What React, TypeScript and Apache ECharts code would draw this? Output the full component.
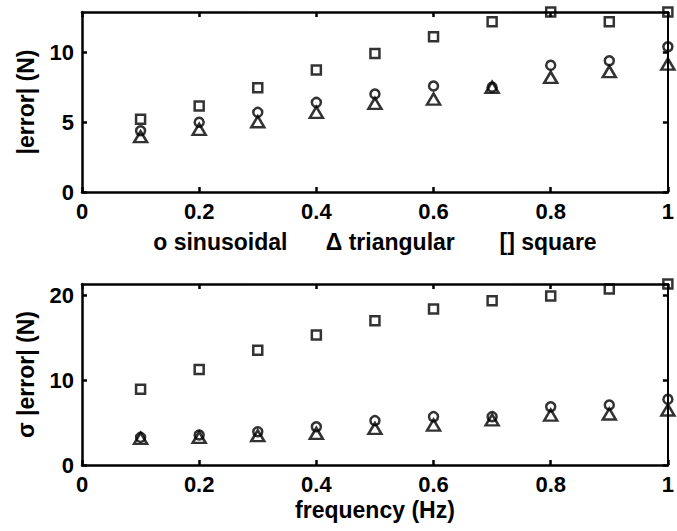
import React, { useEffect, useRef } from "react";
import * as echarts from "echarts";

const frequency = [0.1, 0.2, 0.3, 0.4, 0.5, 0.6, 0.7, 0.8, 0.9, 1.0];

// top panel: |error| (N)
const meanSinusoidal = [4.38, 4.98, 5.69, 6.4, 7.0, 7.57, 7.48, 9.05, 9.38, 10.38];
const meanTriangular = [3.95, 4.48, 5.02, 5.69, 6.33, 6.64, 7.48, 8.19, 8.6, 9.14];
const meanSquare = [5.2, 6.14, 7.45, 8.71, 9.9, 11.1, 12.16, 12.86, 12.16, 12.86];

// bottom panel: sigma |error| (N)
const sdSinusoidal = [3.25, 3.53, 3.92, 4.5, 5.22, 5.69, 5.69, 6.86, 7.06, 7.73];
const sdTriangular = [3.14, 3.25, 3.45, 3.72, 4.3, 4.7, 5.3, 5.88, 6.0, 6.47];
const sdSquare = [8.9, 11.25, 13.5, 15.3, 16.98, 18.35, 19.33, 19.9, 20.7, 21.3];

const topYMax = 12.86;
const bottomYMax = 21.3;

const FONT = "'Liberation Sans', Arial, Helvetica, sans-serif";

function pairs(xs: number[], ys: number[]) {
  return xs.map((x, i) => [x, ys[i]]);
}

export default function App() {
  const ref = useRef<HTMLDivElement>(null);

  useEffect(() => {
    if (!ref.current) return;
    const chart = echarts.init(ref.current, undefined, { renderer: "svg" });

    const lineStyle = { color: "#000", width: 2.5 };
    const labelStyle = {
      color: "#000",
      fontFamily: FONT,
      fontWeight: "bold" as const,
      fontSize: 22,
    };
    const nameStyle = {
      color: "#000",
      fontFamily: FONT,
      fontWeight: "bold" as const,
      fontSize: 23,
    };

    const xBottom = (gridIndex: number, name: string, gap: number) => ({
      type: "value",
      gridIndex,
      position: "bottom",
      min: 0,
      max: 1,
      interval: 0.2,
      name,
      nameLocation: "middle",
      nameGap: gap,
      nameTextStyle: nameStyle,
      axisLine: { show: true, onZero: false, lineStyle },
      axisTick: { show: true, inside: true, length: 5, lineStyle },
      axisLabel: { ...labelStyle, margin: 8 },
      splitLine: { show: false },
    });
    const xTop = (gridIndex: number) => ({
      type: "value",
      gridIndex,
      position: "top",
      min: 0,
      max: 1,
      interval: 0.2,
      axisLine: { show: true, onZero: false, lineStyle },
      axisTick: { show: true, inside: true, length: 5, lineStyle },
      axisLabel: { show: false },
      splitLine: { show: false },
    });
    const yLeft = (gridIndex: number, max: number, interval: number, name: string) => ({
      type: "value",
      gridIndex,
      position: "left",
      min: 0,
      max,
      interval,
      name,
      nameLocation: "middle",
      nameGap: 45,
      nameTextStyle: nameStyle,
      axisLine: { show: true, onZero: false, lineStyle },
      axisTick: { show: true, inside: true, length: 5, lineStyle },
      axisLabel: { ...labelStyle, margin: 8, showMaxLabel: false },
      splitLine: { show: false },
    });
    const yRight = (gridIndex: number, max: number, interval: number) => ({
      type: "value",
      gridIndex,
      position: "right",
      min: 0,
      max,
      interval,
      axisLine: { show: true, onZero: false, lineStyle: { color: "#000", width: 2 } },
      axisTick: { show: true, inside: true, length: 5, lineStyle },
      axisLabel: { show: false },
      splitLine: { show: false },
    });

    const markerStyle = { color: "rgba(0,0,0,0)", borderColor: "#000", borderWidth: 2.5 };
    const scatter = (
      name: string,
      symbol: string,
      size: number | number[],
      ys: number[],
      axisIndex: number
    ) => ({
      type: "scatter",
      name,
      xAxisIndex: axisIndex,
      yAxisIndex: axisIndex,
      symbol,
      symbolSize: size,
      clip: false,
      itemStyle: markerStyle,
      emphasis: { disabled: true },
      data: pairs(frequency, ys),
    });

    chart.setOption({
      animation: false,
      backgroundColor: "#fff",
      grid: [
        { left: 82, top: 12, width: 592, height: 180, containLabel: false },
        { left: 82, top: 284, width: 592, height: 181, containLabel: false },
      ],
      xAxis: [
        xBottom(0, "o sinusoidal      \u0394 triangular       [] square", 38),
        xBottom(1, "frequency (Hz)", 33),
        xTop(0),
        xTop(1),
      ],
      yAxis: [
        yLeft(0, topYMax, 5, "|error| (N)"),
        yLeft(1, bottomYMax, 10, "\u03c3 |error| (N)"),
        yRight(0, topYMax, 5),
        yRight(1, bottomYMax, 10),
      ],
      series: [
        scatter("triangular", "triangle", [13, 11], meanTriangular, 0),
        scatter("sinusoidal", "circle", 9, meanSinusoidal, 0),
        scatter("square", "rect", 9, meanSquare, 0),
        scatter("triangular", "triangle", [13, 11], sdTriangular, 1),
        scatter("sinusoidal", "circle", 9, sdSinusoidal, 1),
        scatter("square", "rect", 9, sdSquare, 1),
      ],
    });

    return () => chart.dispose();
  }, []);

  return (
    <div
      ref={ref}
      style={{ position: "absolute", left: 0, top: 0, width: 677, height: 531, background: "#fff" }}
    />
  );
}
